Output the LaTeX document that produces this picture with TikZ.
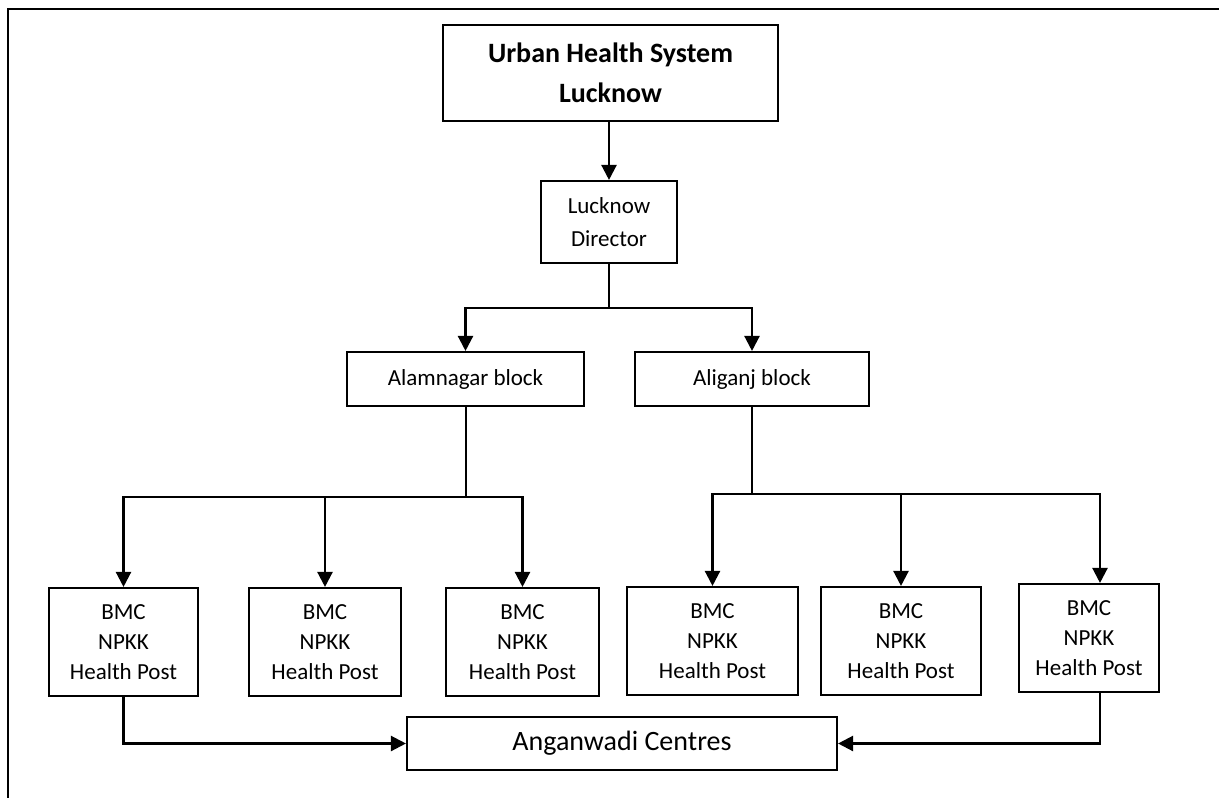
\documentclass[tikz,border=0pt]{standalone}
\usepackage{fontspec}
\setmainfont{Carlito}
\usetikzlibrary{arrows.meta}
\begin{document}
\begin{tikzpicture}[x=1pt,y=-1pt,
  box/.style={draw=black,line width=2.1pt,inner sep=0pt,align=center},
  bigfont/.style={font=\fontsize{28}{40}\selectfont},
  midfont/.style={font=\fontsize{23}{33}\selectfont},
  smallfont/.style={font=\fontsize{23}{30}\selectfont},
  conn/.style={line width=2.3pt},
  arr/.style={conn,-{Triangle[length=15pt,width=15pt]}}]
\useasboundingbox (0,0) rectangle (1219,798);
\draw[line width=2.4pt] (1225,9) -- (8,9) -- (8,805);
\node[box,bigfont,minimum width=335pt,minimum height=96pt] (top) at (610.5,73) {\textbf{Urban Health System}\\\textbf{Lucknow}};
\node[box,midfont,minimum width=136pt,minimum height=82pt] (dir) at (609,222) {Lucknow\\Director};
\node[box,smallfont,minimum width=237pt,minimum height=54pt] (alam) at (465.5,379) {Alamnagar block};
\node[box,smallfont,minimum width=234pt,minimum height=54pt] (alig) at (752,379) {Aliganj block};
\node[box,smallfont,minimum width=149pt,minimum height=108pt] (b1) at (123.5,642) {BMC\\NPKK\\Health Post};
\node[box,smallfont,minimum width=152pt,minimum height=108pt] (b2) at (325,642) {BMC\\NPKK\\Health Post};
\node[box,smallfont,minimum width=153pt,minimum height=108pt] (b3) at (522.5,642) {BMC\\NPKK\\Health Post};
\node[box,smallfont,minimum width=171pt,minimum height=108pt] (b4) at (712.5,641) {BMC\\NPKK\\Health Post};
\node[box,smallfont,minimum width=160pt,minimum height=108pt] (b5) at (901,641) {BMC\\NPKK\\Health Post};
\node[box,smallfont,minimum width=140pt,minimum height=108pt] (b6) at (1089,638) {BMC\\NPKK\\Health Post};
\node[box,font=\fontsize{28}{34}\selectfont,minimum width=430pt,minimum height=53pt] (ang) at (622,743.5) {Anganwadi Centres};
\coordinate (j1) at (609,308);
\coordinate (j2) at (466,497);
\coordinate (j3) at (752,494);
\coordinate (b6in) at ([xshift=11pt]b6.north);
\coordinate (b6out) at ([xshift=11pt]b6.south);
\draw[arr] (dir.north |- top.south) -- (dir.north);
\draw[conn] (dir.south) -- (j1);
\draw[arr] (j1) -| (alam.north);
\draw[arr] (j1) -| (alig.north);
\draw[conn] (alam.south -| j2) -- (j2);
\draw[arr] (j2) -| (b1.north);
\draw[arr] (j2) -| (b2.north);
\draw[arr] (j2) -| (b3.north);
\draw[conn] (alig.south) -- (j3);
\draw[arr] (j3) -| (b4.north);
\draw[arr] (j3) -| (b5.north);
\draw[arr] (j3) -| (b6in);
\draw[arr] (b1.south) |- (ang.west);
\draw[arr] (b6out) |- (ang.east);
\end{tikzpicture}
\end{document}
